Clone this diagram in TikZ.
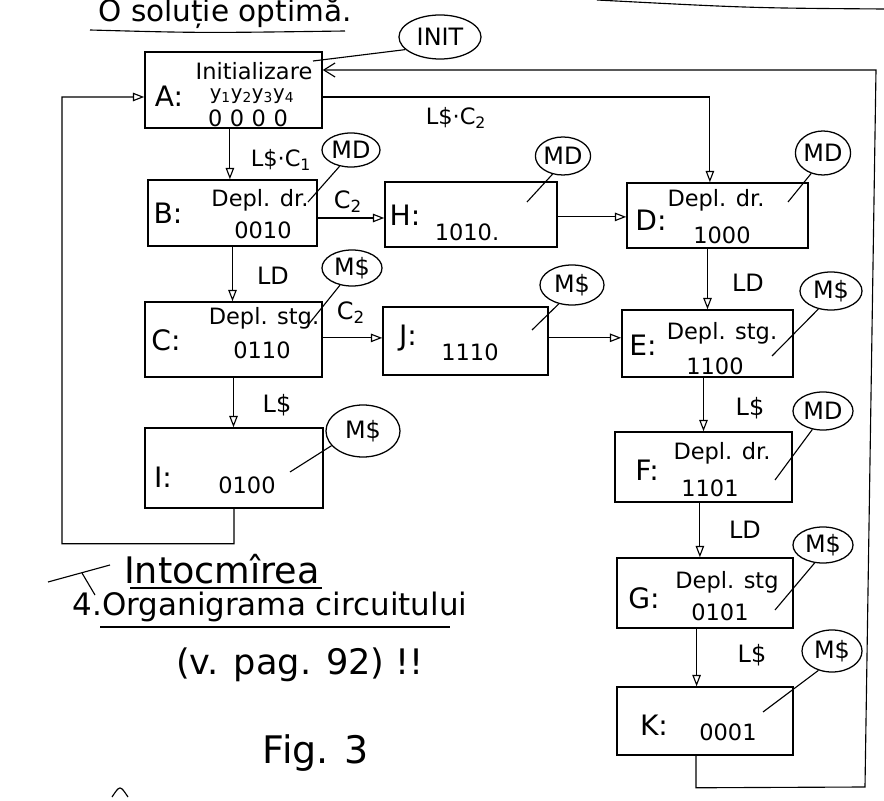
\documentclass[tikz,border=0pt]{standalone}
\usepackage{fontspec}
\setmainfont{DejaVu Sans}
\usetikzlibrary{shapes.geometric,arrows.meta,calc}
\newcommand{\fs}[1]{\fontsize{#1}{#1}\selectfont}
\begin{document}
\begin{tikzpicture}[x=0.025cm,y=-0.025cm,
  stbox/.style={draw, line width=1.1pt, inner sep=0pt},
  tag/.style={draw, ellipse, line width=0.9pt, inner sep=0pt, font=\fs{17}},
  lead/.style={line width=0.8pt},
  flow/.style={line width=0.8pt, -{Triangle[open,length=8pt,width=6pt]}},
  back/.style={line width=0.8pt, -{Straight Barb[length=8pt,width=10pt]}},
  lbl/.style={inner sep=0pt, font=\fs{17}},
  stname/.style={inner sep=0pt, font=\fs{20}},
  txt/.style={inner sep=0pt, font=\fs{16}},
  note/.style={inner sep=0pt, font=\fs{25}},
]
\useasboundingbox (0,0) rectangle (884,801);
\clip (0,0) rectangle (884,801);

% heading
\node[note, font=\fs{21}, anchor=base] (head) at (225,22) {O soluție optimă.};
\draw[lead] (90,30) .. controls (200,33) .. (345,31);
\draw[lead] (597,0) .. controls (750,8) .. (884,9);

% state boxes
\node[stbox, minimum width=4.425cm, minimum height=1.9cm]  (A) at (233.5,90) {};
\node[stbox, minimum width=4.225cm, minimum height=1.65cm] (B) at (232.5,213) {};
\node[stbox, minimum width=4.3cm,   minimum height=1.625cm] (H) at (471,214.5) {};
\node[stbox, minimum width=4.525cm, minimum height=1.625cm] (D) at (717.5,215.5) {};
\node[stbox, minimum width=4.425cm, minimum height=1.875cm] (C) at (233.5,339.5) {};
\node[stbox, minimum width=4.125cm, minimum height=1.7cm]  (J) at (465.5,341) {};
\node[stbox, minimum width=4.275cm, minimum height=1.675cm] (E) at (707.5,343.5) {};
\node[stbox, minimum width=4.45cm,  minimum height=2cm]    (I) at (234,468) {};
\node[stbox, minimum width=4.425cm, minimum height=1.75cm] (F) at (703.5,467) {};
\node[stbox, minimum width=4.4cm,   minimum height=1.75cm] (G) at (705,593) {};
\node[stbox, minimum width=4.4cm,   minimum height=1.7cm]  (K) at (705,721) {};

% box contents
\node[stname] (Al) at (169,96) {A:};
\node[txt] (At1) at (254,71) {Initializare};
\node[txt, font=\fs{14}] (At2) at (252,96) {y\textsubscript{1}y\textsubscript{2}y\textsubscript{3}y\textsubscript{4}};
\node[txt] (At3) at (248,118) {0\,\,0\,\,0\,\,0};

\node[stname] (Bl) at (168,213) {B:};
\node[txt] (Bt1) at (260,200) {Depl. dr.};
\node[txt] (Bt2) at (263,230) {0010};

\node[stname] (Hl) at (405,215) {H:};
\node[txt] (Ht) at (467,232) {1010.};

\node[stname] (Dl) at (651,220) {D:};
\node[txt] (Dt1) at (716,200) {Depl. dr.};
\node[txt] (Dt2) at (722,235) {1000};

\node[stname] (Cl) at (166,340) {C:};
\node[txt] (Ct1) at (264,318) {Depl. stg.};
\node[txt] (Ct2) at (262,350) {0110};

\node[stname] (Jl) at (408,338) {J:};
\node[txt] (Jt) at (470,352) {1110};

\node[stname] (El) at (643,345) {E:};
\node[txt] (Et1) at (722,333) {Depl. stg.};
\node[txt] (Et2) at (715,366) {1100};

\node[stname] (Il) at (163,477) {I:};
\node[txt] (It) at (247,485) {0100};

\node[stname] (Fl) at (647,470) {F:};
\node[txt] (Ft1) at (722,453) {Depl. dr.};
\node[txt] (Ft2) at (710,488) {1101};

\node[stname] (Gl) at (644,598) {G:};
\node[txt] (Gt1) at (727,582) {Depl. stg};
\node[txt] (Gt2) at (720,612) {0101};

\node[stname] (Kl) at (654,725) {K:};
\node[txt] (Kt) at (728,732) {0001};

% output tags
\node[tag, minimum width=2.05cm, minimum height=1.1cm]  (init) at (440,37) {INIT};
\node[tag, minimum width=1.45cm, minimum height=0.85cm] (mdB) at (351,150) {MD};
\node[tag, minimum width=1.35cm, minimum height=0.95cm] (mdH) at (563,156) {MD};
\node[tag, minimum width=1.35cm, minimum height=1.1cm]  (mdD) at (823,153) {MD};
\node[tag, minimum width=1.5cm,  minimum height=0.9cm]  (msC) at (352,268) {M\$};
\node[tag, minimum width=1.6cm,  minimum height=1.0cm]  (msJ) at (572,285) {M\$};
\node[tag, minimum width=1.55cm, minimum height=0.95cm] (msE) at (831,291) {M\$};
\node[tag, minimum width=1.85cm, minimum height=1.3cm]  (msI) at (363,431) {M\$};
\node[tag, minimum width=1.5cm,  minimum height=0.95cm] (mdF) at (823,411) {MD};
\node[tag, minimum width=1.5cm,  minimum height=0.9cm]  (msG) at (823,545) {M\$};
\node[tag, minimum width=1.5cm,  minimum height=1.05cm] (msK) at (832,651) {M\$};

% where the tag leaders end
\coordinate (pA) at (313,61);
\coordinate (pB) at (308,202);
\coordinate (pH) at (527,202);
\coordinate (pD) at (788,202);
\coordinate (pC) at (308,325);
\coordinate (pJ) at (532,330);
\coordinate (pE) at (772,356);
\coordinate (pI) at (290,472);
\coordinate (pF) at (775,480);
\coordinate (pG) at (775,610);
\coordinate (pK) at (763,712);

\draw[lead] (init.200) -- (pA);
\draw[lead] (mdB.235) -- (pB);
\draw[lead] (mdH.240) -- (pH);
\draw[lead] (mdD.240) -- (pD);
\draw[lead] (msC.235) -- (pC);
\draw[lead] (msJ.235) -- (pJ);
\draw[lead] (msE.235) -- (pE);
\draw[lead] (msI.205) -- (pI);
\draw[lead] (mdF.240) -- (pF);
\draw[lead] (msG.245) -- (pG);
\draw[lead] (msK.235) -- (pK);

% transitions
\draw[flow] ([xshift=-0.09cm]A.south) -- ([xshift=-0.09cm]A.south |- B.north);
\draw[flow] ([yshift=-0.125cm]B.east) -- ([yshift=-0.125cm]B.east -| H.west);
\draw[flow] ([yshift=-0.06cm]H.east) -- ([yshift=-0.06cm]H.east -| D.west);
\draw[flow] ([yshift=-0.175cm]A.east) -| ([xshift=-0.19cm]D.north);
\draw[flow] (B.south) -- (B.south |- C.north);
\draw[flow] ([yshift=0.04cm]C.east) -- ([yshift=0.04cm]C.east -| J.west);
\draw[flow] ([yshift=0.08cm]J.east) -- ([yshift=0.08cm]J.east -| E.west);
\draw[flow] (E.north |- D.south) -- (E.north);
\draw[flow] (C.south) -- (C.south |- I.north);
\draw[flow] (F.north |- E.south) -- (F.north);
\draw[flow] ([xshift=-0.09cm]F.south) -- ([xshift=-0.09cm]F.south |- G.north);
\draw[flow] ([xshift=-0.21cm]G.south) -- ([xshift=-0.21cm]G.south |- K.north);

% return paths to A
\draw[flow] (I.south) -- ++(0,35) -| (62,97) -- ([yshift=-0.175cm]A.west);
\draw[back] ([xshift=-0.225cm]K.south) -- ++(0,32) -- (865,787) -- (876,70)
  -- ([yshift=0.5cm]A.east);

% transition conditions
\node[lbl, font=\fs{16}] (c1) at (456,118) {L\$·C\textsubscript{2}};
\node[lbl, font=\fs{16}] (c2) at (281,160) {L\$·C\textsubscript{1}};
\node[lbl] (c3) at (348,202) {C\textsubscript{2}};
\node[lbl] (c4) at (351,313) {C\textsubscript{2}};
\node[lbl] (c5) at (273,276) {LD};
\node[lbl] (c6) at (748,283) {LD};
\node[lbl] (c7) at (745,530) {LD};
\node[lbl] (c8) at (277,405) {L\$};
\node[lbl] (c9) at (750,408) {L\$};
\node[lbl] (c10) at (752,655) {L\$};

% notes under the chart
\draw[lead] (48,582) -- (110,565);
\draw[lead] (82,573) -- (95,595);
\node[note, font=\fs{26}] (n1) at (222,569) {Intocmîrea};
\draw[lead] (130,588) -- (322,588);
\node[note, font=\fs{22}] (n2) at (270,607) {4.Organigrama circuitului};
\draw[lead] (100,627) -- (450,627);
\node[note] (n3) at (300,665) {(v. pag. 92) !!};
\node[note, font=\fs{27}] (n4) at (316,753) {Fig. 3};
\draw[lead] (112,797) .. controls (120,785) .. (128,797);
\end{tikzpicture}
\end{document}
